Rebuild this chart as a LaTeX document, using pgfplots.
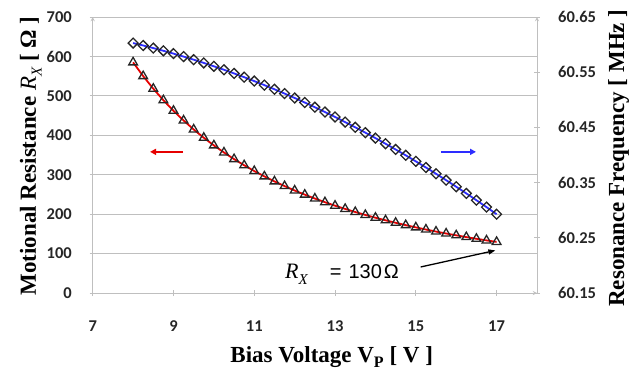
\documentclass[border=0pt]{standalone}
\usepackage{fontspec}
\setmainfont{Liberation Serif}
\setsansfont{Liberation Sans}
\newfontfamily\carlito{Carlito}
\newfontfamily\arialish{Liberation Sans}
\usepackage{pgfplots}
\pgfplotsset{compat=1.18}
\usepackage{pgfplotstable}
\usetikzlibrary{arrows.meta}
\definecolor{gridgray}{RGB}{191,191,191}
\definecolor{myred}{RGB}{230,0,0}
\definecolor{myblue}{RGB}{45,45,255}
\definecolor{ticktext}{RGB}{38,38,38}

\pgfplotstableread{
V R
8 585.0
8.25 550.1
8.5 518.2
8.75 489.0
9 462.2
9.25 437.6
9.5 414.8
9.75 393.8
10 374.4
10.25 356.4
10.5 339.6
10.75 324.0
11 309.4
11.25 295.8
11.5 283.1
11.75 271.2
12 260.0
12.25 249.5
12.5 239.6
12.75 230.3
13 221.5
13.25 213.3
13.5 205.4
13.75 198.0
14 191.0
14.25 184.4
14.5 178.1
14.75 172.1
15 166.4
15.25 161.0
15.5 155.8
15.75 150.9
16 146.3
16.25 141.8
16.5 137.5
16.75 133.4
17 129.6
}\rxtable

\pgfplotstableread{
V F
8 60.6028
8.25 60.5984
8.5 60.5937
8.75 60.5888
9 60.5837
9.25 60.5783
9.5 60.5727
9.75 60.5668
10 60.5607
10.25 60.5544
10.5 60.5478
10.75 60.5410
11 60.5339
11.25 60.5266
11.5 60.5191
11.75 60.5113
12 60.5033
12.25 60.4951
12.5 60.4866
12.75 60.4778
13 60.4689
13.25 60.4596
13.5 60.4502
13.75 60.4405
14 60.4306
14.25 60.4204
14.5 60.4100
14.75 60.3994
15 60.3885
15.25 60.3774
15.5 60.3660
15.75 60.3544
16 60.3425
16.25 60.3304
16.5 60.3181
16.75 60.3056
17 60.2927
}\freqtable

\begin{document}
\begin{tikzpicture}
\path[use as bounding box] (-92.7pt,-80pt) rectangle (542.3pt,293pt);
\pgfplotsset{every axis/.append style={
  scale only axis, width=444.3pt, height=276pt,
  at={(0pt,0pt)}, anchor=south west,
  xmin=7, xmax=18,
  axis line style={gridgray, line width=0.9pt, -},
  tick style={gridgray, line width=0.9pt},
  major tick length=6pt, tick align=outside,
  ticklabel style={font=\carlito\bfseries\fontsize{16.5}{18}\selectfont, text=ticktext},
  /pgf/number format/assume math mode=true,
  clip=false}}
\begin{axis}[
  axis x line=bottom, axis y line=left,
  ymin=0, ymax=700,
  ytick={0,100,200,300,400,500,600,700},
  xtick={7,9,11,13,15,17},
  ymajorgrids, grid style={gridgray, line width=0.9pt},
  xticklabel style={anchor=base, yshift=-35pt},
  yticklabel style={anchor=east, inner sep=0pt, xshift=-17.7pt},
]
\addplot[myred, line width=1.8pt, mark=triangle, mark size=5pt,
  mark options={draw=black!85, fill=white, line width=1.3pt, solid}] table[x=V, y=R] {\rxtable};
\draw[myred, line width=1.6pt, -{Triangle[length=6pt,width=6pt]}] (axis cs:9.24,358) -- (axis cs:8.42,358);
\draw[myblue, line width=1.6pt, -{Triangle[length=6pt,width=6pt]}] (axis cs:15.62,358) -- (axis cs:16.49,358);
\draw[black, line width=1.3pt, -{Triangle[length=7pt,width=5pt]}] (axis cs:15.12,66) -- (axis cs:16.97,108);
\end{axis}
\begin{axis}[
  axis y line=right, axis x line=none,
  ymin=60.15, ymax=60.65,
  ytick={60.15,60.25,60.35,60.45,60.55,60.65},
  scaled y ticks=false,
  yticklabel style={anchor=west, inner sep=0pt, xshift=18pt,
    /pgf/number format/.cd, fixed, fixed zerofill, precision=2},
]
\addplot[myblue, line width=1.8pt, mark=square, mark size=3.5pt,
  mark options={draw=black!85, fill=white, line width=1.3pt, solid, rotate=45}] table[x=V, y=F] {\freqtable};
\end{axis}
\node[anchor=base, inner sep=0pt, font=\bfseries\fontsize{23}{26}\selectfont] at (239pt,-69pt)
  {Bias Voltage V\raisebox{-0.25em}{\fontsize{16}{16}\selectfont P} [ V ]};
\node[anchor=base, rotate=90, inner sep=0pt, font=\bfseries\fontsize{23}{26}\selectfont] at (-56.7pt,137pt)
  {Motional Resistance {\mdseries\itshape R\raisebox{-0.25em}{\fontsize{15}{15}\selectfont X}} [ Ω ]};
\node[anchor=base, rotate=90, inner sep=0pt, font=\bfseries\fontsize{23}{26}\selectfont] at (531.3pt,135pt)
  {Resonance Frequency [ MHz ]};
\node[anchor=base west, inner sep=0pt] at (192.3pt,15pt)
  {{\fontsize{22}{24}\selectfont\itshape R\raisebox{-0.3em}{\fontsize{15}{15}\selectfont X}}};
\node[anchor=base west, inner sep=0pt, font=\arialish\fontsize{20}{22}\selectfont] at (237pt,15pt)
  {\strut{=}\hspace*{7pt}130\hspace*{2pt}Ω};
\end{tikzpicture}
\end{document}
